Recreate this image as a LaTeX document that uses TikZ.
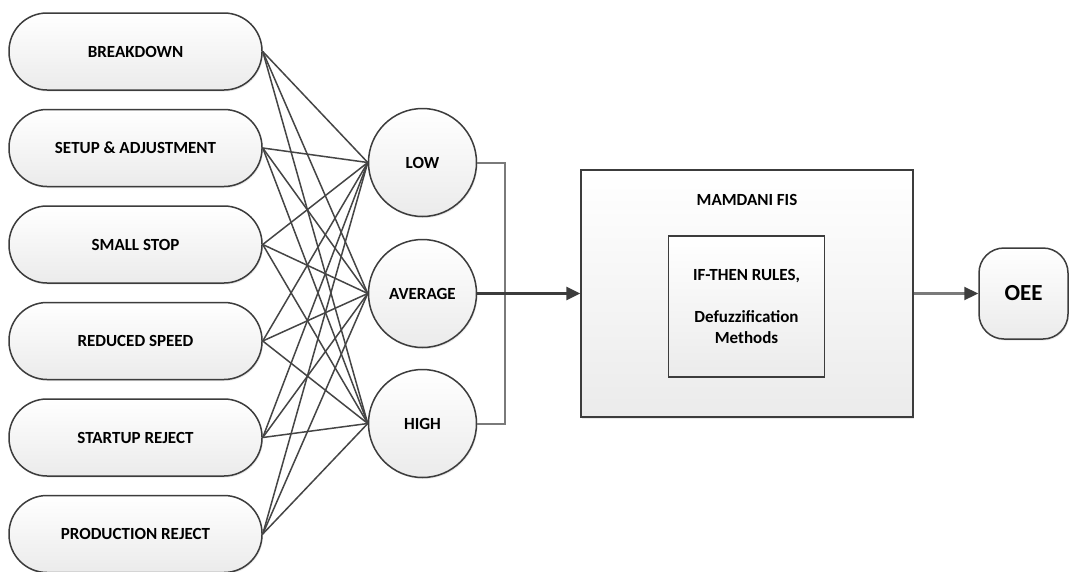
\documentclass[tikz,border=0pt]{standalone}
\usepackage{fontspec}
\setmainfont{Carlito}
\usepackage{tikz}
\usetikzlibrary{
    arrows.meta,
    shadows
}
\definecolor{linegray}{HTML}{3C3C3C}
\definecolor{wiregray}{HTML}{454545}
\definecolor{fillgray}{HTML}{EBEBEB}
\definecolor{bargray}{HTML}{7A7A7A}
\newcommand{\boxfont}{\fontsize{17}{21}\selectfont\bfseries}
\tikzset{
    softshadow/.style={drop shadow={opacity=0.18, shadow xshift=1pt, shadow yshift=-1.5pt}},
    pill/.style={draw=linegray, line width=1.5pt, rounded corners=38pt, minimum width=253pt, minimum height=77pt,
        top color=white, bottom color=fillgray, font=\boxfont, softshadow},
    level/.style={draw=linegray, line width=1.5pt, circle, minimum size=108pt, inner sep=0pt,
        top color=white, bottom color=fillgray, font=\boxfont, softshadow},
    wire/.style={draw=wiregray, line width=1.5pt},
    tip/.style={-{Triangle[length=14pt, width=13pt]}}
}

\begin{document}
\begin{tikzpicture}[x=1pt, y=-1pt]
    \useasboundingbox (0, 0) rectangle (1069, 571);
    \fill[white] (0, 0) rectangle (1069, 571);
    % inputs
    \node[pill] (breakdown) at (135.5, 51.5) {BREAKDOWN};
    \node[pill] (setup) at (135.5, 148) {SETUP \& ADJUSTMENT};
    \node[pill] (smallstop) at (135.5, 244.5) {SMALL STOP};
    \node[pill] (reduced) at (135.5, 341) {REDUCED SPEED};
    \node[pill] (startup) at (135.5, 437.5) {STARTUP REJECT};
    \node[pill] (production) at (135.5, 534) {PRODUCTION REJECT};
    % levels
    \node[level] (low) at (422.5, 162.5) {LOW};
    \node[level] (avg) at (422.5, 293.5) {AVERAGE};
    \node[level] (high) at (422.5, 423.5) {HIGH};
    % fis
    \node[draw=linegray, line width=1.5pt, minimum width=332pt, minimum height=247pt,
        top color=white, bottom color=fillgray, softshadow] (mamdani) at (747, 293.5) {};
    \node[font=\boxfont] (mamdanititle) at (747, 200) {MAMDANI FIS};
    \node[draw=linegray, line width=1.6pt, minimum width=156pt, minimum height=141pt,
        top color=white, bottom color=fillgray, align=center, font=\boxfont] (rules) at (746.5, 306.5)
        {IF-THEN RULES,\\[21pt]Defuzzification\\Methods};
    \node[draw=linegray, line width=1.5pt, rounded corners=25pt, minimum width=89pt, minimum height=91pt,
        top color=white, bottom color=fillgray, font=\fontsize{23}{27}\selectfont\bfseries, softshadow] (oee) at (1023.5, 293.5) {OEE};
    \draw
    (breakdown.east) edge[wire] (low.west)
    (breakdown.east) edge[wire] (avg.west)
    (breakdown.east) edge[wire] (high.west)
    (setup.east) edge[wire] (low.west)
    (setup.east) edge[wire] (avg.west)
    (setup.east) edge[wire] (high.west)
    (smallstop.east) edge[wire] (low.west)
    (smallstop.east) edge[wire] (avg.west)
    (smallstop.east) edge[wire] (high.west)
    (reduced.east) edge[wire] (low.west)
    (reduced.east) edge[wire] (avg.west)
    (reduced.east) edge[wire] (high.west)
    (startup.east) edge[wire] (low.west)
    (startup.east) edge[wire] (avg.west)
    (startup.east) edge[wire] (high.west)
    (production.east) edge[wire] (low.west)
    (production.east) edge[wire] (avg.west)
    (production.east) edge[wire] (high.west);
    \draw[draw=bargray, line width=2pt] (low.east) -- ++(27.5, 0) |- (high.east);
    \draw[tip, draw=linegray, line width=3pt] (avg.east) -- (mamdani.west);
    \draw[-{Triangle[length=14pt, width=13pt, color=linegray]}, draw=bargray, line width=2.2pt] (mamdani.east) -- (oee.west);
\end{tikzpicture}
\end{document}
